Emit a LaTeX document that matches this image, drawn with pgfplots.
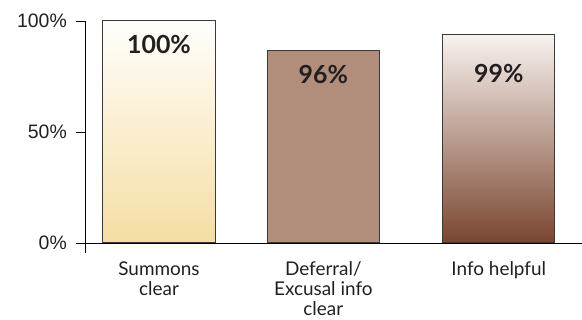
\documentclass[border=0pt]{standalone}
\usepackage{pgfplots}
\pgfplotsset{compat=1.18}
\usepackage{fontspec}
\setmainfont{Lato}
\newfontfamily\tickfont{Liberation Sans}
\definecolor{txt}{HTML}{231F20}
\definecolor{edge}{HTML}{3A3A3A}
\definecolor{bOneTop}{HTML}{FFFEFC}
\definecolor{bOneMid}{HTML}{FAEFD6}
\definecolor{bOneBot}{HTML}{F5DEA3}
\definecolor{bTwo}{HTML}{B18E7B}
\definecolor{bThreeTop}{HTML}{F8F3F0}
\definecolor{bThreeMid}{HTML}{BA9B8A}
\definecolor{bThreeBot}{HTML}{7A4530}
\begin{document}
\begin{tikzpicture}
\path[use as bounding box] (0,0) rectangle (582bp,320bp);
\begin{axis}[
  at={(85bp,77bp)}, anchor=origin,
  x=1bp, y=2.22bp,
  xmin=-9, xmax=497, ymin=-4.5, ymax=100,
  axis lines=middle,
  axis line style={-, black, line width=0.9bp},
  hide obscured x ticks=false, hide obscured y ticks=false,
  ytick={0,50,100},
  yticklabels={0\%,50\%,100\%},
  yticklabel style={font=\tickfont\fontsize{19.5}{21}\selectfont, text=txt, inner sep=0pt, xshift=-18bp},
  y tick style={draw=none},
  major tick length=0pt,
  xtick={74,238.3,413.8},
  xticklabels={Summons\\clear, Deferral/\\Excusal info\\clear, Info helpful},
  xticklabel style={font=\fontsize{19}{20.2}\selectfont, text=txt, align=center, anchor=north, inner sep=0pt, yshift=-18.5bp},
  x tick style={draw=none},
  clip=false,
]
\addplot[ybar, bar shift=0pt, bar width=112.6, draw=edge, line width=1bp,
  top color=bOneTop, middle color=bOneMid, bottom color=bOneBot]
  coordinates {(74,100)};
\addplot[ybar, bar shift=0pt, bar width=112, draw=edge, line width=1bp, fill=bTwo]
  coordinates {(238.3,86.6)};
\addplot[ybar, bar shift=0pt, bar width=112.3, draw=edge, line width=1bp,
  top color=bThreeTop, middle color=bThreeMid, bottom color=bThreeBot]
  coordinates {(413.8,94.0)};
\draw[black, line width=0.9bp] (axis cs:-9,100) -- (axis cs:0,100);
\draw[black, line width=0.9bp] (axis cs:-9,50) -- (axis cs:0,50);
\draw[black, line width=0.9bp] (axis cs:-9,0) -- (axis cs:0,0);
\draw[black, line width=0.9bp] (axis cs:0,-4.5) -- (axis cs:0,100);
\node[font=\bfseries\fontsize{25}{26}\selectfont, text=txt] at (axis cs:74,89.2) {100\%};
\node[font=\bfseries\fontsize{25}{26}\selectfont, text=txt] at (axis cs:238.3,75.8) {96\%};
\node[font=\bfseries\fontsize{25}{26}\selectfont, text=txt] at (axis cs:413.8,76.4) {99\%};
\end{axis}
\end{tikzpicture}
\end{document}
